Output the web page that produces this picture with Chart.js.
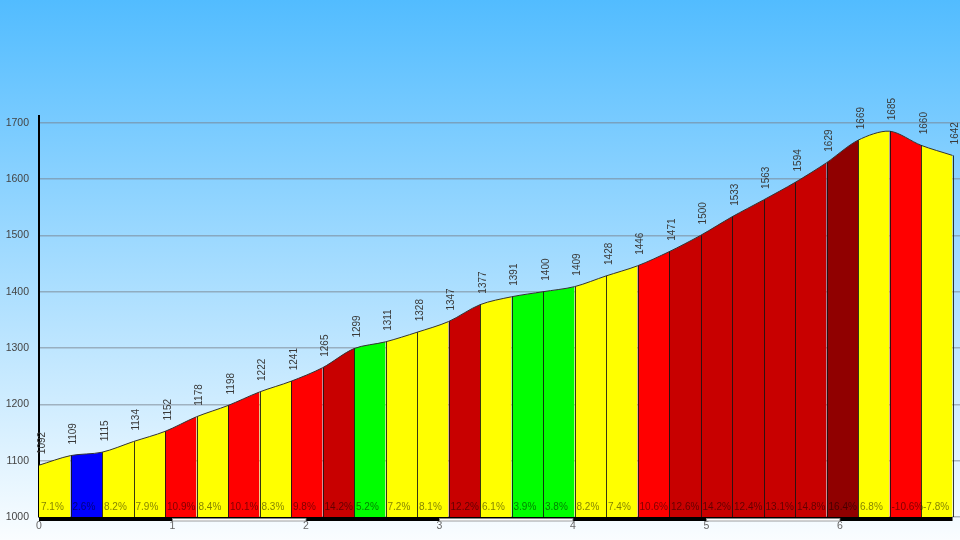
<!DOCTYPE html>
<html>
<head>
<meta charset="utf-8">
<script src="https://cdn.jsdelivr.net/npm/chart.js@4/dist/chart.umd.min.js"></script>
<style>
  html, body { margin: 0; padding: 0; }
  body { width: 960px; height: 540px; background: linear-gradient(to bottom, rgb(82,188,255) 0%, rgb(250,253,255) 100%); overflow: hidden; }
  #wrap { width: 960px; height: 540px; }
</style>
</head>
<body>
<div id="wrap"><canvas id="c" width="960" height="540"></canvas></div>
<script>
// Distance (km) at each profile point
const distances = [0, 0.236, 0.472, 0.708, 0.944, 1.18, 1.416, 1.652, 1.888, 2.124,
  2.36, 2.596, 2.832, 3.068, 3.304, 3.54, 3.776, 4.012, 4.248, 4.484,
  4.72, 4.956, 5.192, 5.428, 5.664, 5.9, 6.136, 6.372, 6.608, 6.844];
// Elevation (m) at each point
const elevations = [1092, 1109, 1115, 1134, 1152, 1178, 1198, 1222, 1241, 1265,
  1299, 1311, 1328, 1347, 1377, 1391, 1400, 1409, 1428, 1446,
  1471, 1500, 1533, 1563, 1594, 1629, 1669, 1685, 1660, 1642];
// Gradient (%) of each segment
const grades = [7.1, 2.6, 8.2, 7.9, 10.9, 8.4, 10.1, 8.3, 9.8, 14.2,
  5.2, 7.2, 8.1, 12.2, 6.1, 3.9, 3.8, 8.2, 7.4, 10.6,
  12.6, 14.2, 12.4, 13.1, 14.8, 16.4, 6.8, -10.6, -7.8];
const xTicks = [0, 1, 2, 3, 4, 5, 6];
const yTicks = [1000, 1100, 1200, 1300, 1400, 1500, 1600, 1700];

function gradeColor(g) {
  const a = Math.abs(g);
  if (a < 3) return '#0000ff';
  if (a < 6) return '#00ff00';
  if (a < 9) return '#ffff00';
  if (a < 12) return '#ff0000';
  if (a < 15) return '#c80000';
  return '#900000';
}

const FONT = '"Liberation Sans", Arial, sans-serif';
const points = distances.map((d, i) => ({ x: d, y: elevations[i] }));

const overlay = {
  id: 'overlay',
  afterDatasetsDraw(chart) {
    const ctx = chart.ctx;
    const meta = chart.getDatasetMeta(0);
    const area = chart.chartArea;
    const xs = chart.scales.x;
    ctx.save();
    // separators
    ctx.strokeStyle = 'rgba(20,20,20,0.85)';
    ctx.lineWidth = 1;
    for (let i = 1; i < meta.data.length; i++) {
      const p = meta.data[i];
      const px = Math.round(p.x) + 0.5;
      ctx.beginPath();
      ctx.moveTo(px, p.y);
      ctx.lineTo(px, area.bottom);
      ctx.stroke();
    }
    // grade labels
    ctx.font = '10px ' + FONT;
    ctx.fillStyle = 'rgba(0,0,0,0.5)';
    ctx.textAlign = 'left';
    ctx.textBaseline = 'middle';
    for (let i = 0; i < grades.length; i++) {
      const p = meta.data[i];
      ctx.fillText(grades[i].toFixed(1) + '%', p.x + 2, area.bottom - 10);
    }
    // elevation labels
    ctx.font = '10px ' + FONT;
    ctx.fillStyle = '#3a3a3a';
    for (let i = 0; i < meta.data.length; i++) {
      const p = meta.data[i];
      ctx.save();
      ctx.translate(p.x + 3, p.y - 11);
      ctx.rotate(-Math.PI / 2);
      ctx.textAlign = 'left';
      ctx.textBaseline = 'middle';
      ctx.fillText(String(elevations[i]), 0, 0);
      ctx.restore();
    }
    // scale bar on x axis
    const x0 = xs.getPixelForValue(distances[0]);
    const x1 = xs.getPixelForValue(distances[distances.length - 1]);
    const top = area.bottom;
    ctx.fillStyle = '#000';
    ctx.fillRect(x0, top, x1 - x0, 4);
    ctx.fillStyle = '#fff';
    ctx.strokeStyle = '#888';
    ctx.lineWidth = 0.8;
    for (let k = 1; k + 1 < xTicks.length; k += 2) {
      const a = xs.getPixelForValue(xTicks[k]);
      const b = xs.getPixelForValue(xTicks[k + 1]);
      ctx.fillRect(a, top + 1.5, b - a, 2.5);
      ctx.strokeRect(a, top + 1.5, b - a, 2.5);
    }
    ctx.restore();
  }
};

new Chart(document.getElementById('c'), {
  type: 'line',
  data: {
    datasets: [{
      data: points,
      borderColor: '#333',
      borderWidth: 1,
      pointRadius: 0,
      tension: 0.3,
      fill: 'start',
      backgroundColor: '#ffff00',
      segment: {
        backgroundColor: ctx => gradeColor(grades[ctx.p0DataIndex])
      }
    }]
  },
  options: {
    responsive: false,
    animation: false,
    devicePixelRatio: 1,
    layout: { padding: { top: 116, right: 0, bottom: 0, left: 0 } },
    plugins: { legend: { display: false }, tooltip: { enabled: false } },
    scales: {
      x: {
        type: 'linear',
        min: 0,
        max: 6.9,
        afterFit(s) { s.height = 23; },
        afterBuildTicks(s) { s.ticks = xTicks.map(v => ({ value: v })); },
        grid: { display: false, drawTicks: false },
        border: { display: false },
        ticks: {
          padding: 3,
          color: '#666',
          font: { family: FONT, size: 10.5 },
          maxRotation: 0,
          callback: v => String(v)
        }
      },
      y: {
        min: 1000,
        max: 1712,
        afterFit(s) { s.width = 39; },
        afterBuildTicks(s) { s.ticks = yTicks.map(v => ({ value: v })); },
        grid: { color: 'rgba(120,130,140,0.55)', lineWidth: 1.5, drawTicks: false },
        border: { display: true, color: '#000', width: 2 },
        ticks: {
          padding: 10,
          color: '#444',
          font: { family: FONT, size: 10.5 },
          callback: v => String(v)
        }
      }
    }
  },
  plugins: [overlay]
});
</script>
</body>
</html>
